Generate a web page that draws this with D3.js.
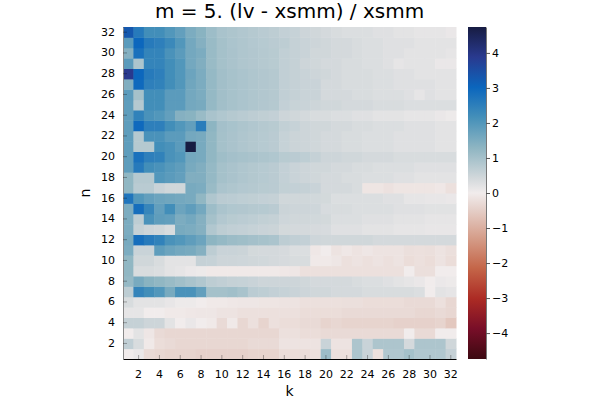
<!DOCTYPE html>
<html>
<head>
<meta charset="utf-8">
<script src="https://cdn.jsdelivr.net/npm/d3@7"></script>
<style>
  body { margin: 0; background: #fff; }
  #graf { width: 600px; height: 400px; }
  text { font-family: "DejaVu Sans", sans-serif; fill: #000; }
</style>
</head>
<body>
<div id="graf"></div>
<script>
// Datos
const kValues = [1, 2, 3, 4, 5, 6, 7, 8, 9, 10, 11, 12, 13, 14, 15, 16, 17, 18, 19, 20, 21, 22, 23, 24, 25, 26, 27, 28, 29, 30, 31, 32];
const nValues = [1, 2, 3, 4, 5, 6, 7, 8, 9, 10, 11, 12, 13, 14, 15, 16, 17, 18, 19, 20, 21, 22, 23, 24, 25, 26, 27, 28, 29, 30, 31, 32];
const xTicks = [2, 4, 6, 8, 10, 12, 14, 16, 18, 20, 22, 24, 26, 28, 30, 32];
const yTicks = [2, 4, 6, 8, 10, 12, 14, 16, 18, 20, 22, 24, 26, 28, 30, 32];
const cbTicks = [-4, -3, -2, -1, 0, 1, 2, 3, 4];

// z[n-1][k-1] : (lv - xsmm) / xsmm
const z = [
  /* n=1  */ [0.0, 0.1, -0.3, -0.35, -0.4, -0.4, -0.4, -0.45, -0.45, -0.45, -0.45, -0.45, -0.4, -0.4, -0.4, -0.25, -0.25, -0.25, -0.2, 1.1, -0.2, -0.2, 0.9, 0.55, -0.2, 0.85, 0.85, 1.0, 0.85, 0.85, 0.85, 0.6],
  /* n=2  */ [0.65, 0.35, -0.05, -0.25, -0.3, -0.35, -0.35, -0.35, -0.35, -0.35, -0.35, -0.35, -0.3, -0.3, -0.3, -0.15, -0.15, -0.15, -0.15, 0.55, -0.15, -0.15, 0.9, 0.55, 0.9, 0.9, 0.9, 0.4, 0.9, 0.9, 0.9, 0.45],
  /* n=3  */ [0.0, 0.2, -0.1, -0.3, -0.35, -0.35, -0.35, -0.35, -0.35, -0.35, -0.35, -0.35, -0.35, -0.35, -0.35, -0.2, -0.2, -0.25, -0.25, -0.3, -0.3, -0.3, -0.3, -0.3, -0.3, -0.3, -0.3, 0.0, -0.3, -0.3, 0.0, 0.0],
  /* n=4  */ [0.6, 0.6, 0.5, 0.5, 0.2, 0.0, 0.1, 0.0, -0.05, -0.3, -0.05, -0.35, -0.2, -0.4, -0.2, -0.25, -0.25, -0.3, -0.3, -0.4, -0.35, -0.4, -0.4, -0.4, -0.4, -0.4, -0.45, -0.45, -0.45, -0.45, -0.4, -0.6],
  /* n=5  */ [0.15, 0.15, 0.0, 0.0, -0.05, -0.05, -0.08, -0.1, -0.1, -0.15, -0.15, -0.2, -0.2, -0.2, -0.2, -0.2, -0.2, -0.25, -0.25, -0.25, -0.25, -0.3, -0.3, -0.3, -0.3, -0.3, -0.3, -0.3, -0.35, -0.35, -0.3, -0.35],
  /* n=6  */ [0.35, 0.2, 0.2, 0.2, 0.12, 0.05, 0.05, 0.0, -0.05, -0.05, -0.08, -0.1, -0.1, -0.12, -0.12, -0.15, -0.15, -0.2, -0.2, -0.2, -0.2, -0.22, -0.22, -0.25, -0.25, -0.25, -0.25, -0.3, -0.3, -0.3, -0.2, -0.35],
  /* n=7  */ [0.7, 2.4, 2.2, 2.0, 1.55, 2.1, 2.1, 1.8, 1.0, 1.0, 1.05, 0.95, 0.72, 0.68, 0.62, 0.58, 0.55, 0.5, 0.45, 0.45, 0.4, 0.4, 0.4, 0.35, 0.35, 0.35, 0.35, 0.35, 0.3, 0.0, 0.2, 0.15],
  /* n=8  */ [1.2, 1.55, 1.35, 1.25, 1.15, 1.05, 0.95, 0.85, 0.7, 0.65, 0.6, 0.58, 0.55, 0.5, 0.5, 0.5, 0.5, 0.45, 0.4, 0.4, 0.4, 0.4, 0.35, 0.3, 0.3, 0.25, 0.2, 0.15, 0.1, 0.0, 0.08, 0.05],
  /* n=9  */ [1.25, 0.35, 0.35, 0.3, 0.2, 0.15, 0.08, 0.05, -0.05, -0.05, -0.05, -0.05, -0.05, -0.05, -0.05, -0.08, -0.1, -0.2, -0.2, -0.2, -0.2, -0.2, -0.2, -0.2, -0.2, -0.2, -0.2, 0.0, -0.22, -0.22, 0.0, 0.0],
  /* n=10 */ [1.25, 0.45, 0.45, 0.35, 0.2, 0.2, 0.2, 0.6, 0.58, 0.5, 0.5, 0.48, 0.46, 0.44, 0.4, 0.38, 0.35, 0.35, -0.05, -0.05, -0.1, -0.2, -0.15, -0.2, -0.15, -0.2, -0.15, -0.25, -0.2, -0.25, -0.15, -0.25],
  /* n=11 */ [1.5, 0.55, 0.55, 1.85, 1.7, 1.6, 1.55, 1.4, 0.7, 0.55, 0.55, 0.52, 0.42, 0.4, 0.4, 0.38, 0.3, 0.3, -0.08, 0.0, -0.15, -0.08, -0.15, -0.1, -0.15, -0.15, -0.15, -0.22, -0.2, -0.22, -0.15, -0.22],
  /* n=12 */ [1.55, 2.85, 2.6, 2.45, 2.1, 2.0, 1.85, 1.7, 1.3, 1.2, 1.12, 1.08, 1.02, 0.98, 0.92, 0.7, 0.65, 0.62, 0.48, 0.45, 0.45, 0.45, 0.45, 0.45, 0.4, 0.4, 0.4, 0.4, 0.4, 0.4, 0.4, 0.4],
  /* n=13 */ [1.5, 0.6, 0.5, 0.45, 0.35, 1.55, 1.5, 1.4, 0.85, 0.7, 0.65, 0.62, 0.58, 0.55, 0.52, 0.42, 0.4, 0.4, 0.38, 0.36, 0.25, 0.25, 0.25, 0.2, 0.2, 0.2, 0.15, 0.15, 0.15, 0.12, 0.12, 0.12],
  /* n=14 */ [1.5, 0.7, 2.1, 1.85, 1.8, 1.5, 1.6, 1.4, 1.0, 0.82, 0.76, 0.72, 0.68, 0.64, 0.6, 0.48, 0.45, 0.45, 0.44, 0.42, 0.3, 0.3, 0.3, 0.25, 0.25, 0.25, 0.2, 0.2, 0.2, 0.15, 0.15, 0.15],
  /* n=15 */ [1.5, 2.85, 2.35, 1.8, 2.2, 1.7, 1.85, 1.6, 1.1, 0.92, 0.86, 0.84, 0.8, 0.78, 0.74, 0.52, 0.5, 0.5, 0.48, 0.36, 0.35, 0.35, 0.3, 0.3, 0.3, 0.3, 0.25, 0.25, 0.25, 0.22, 0.22, 0.22],
  /* n=16 */ [2.7, 2.0, 1.8, 1.7, 1.65, 1.6, 1.55, 1.25, 0.88, 0.74, 0.72, 0.68, 0.66, 0.62, 0.6, 0.46, 0.45, 0.45, 0.44, 0.42, 0.3, 0.3, 0.3, 0.3, 0.3, 0.25, 0.25, 0.15, 0.15, 0.12, 0.12, 0.1],
  /* n=17 */ [1.25, 0.75, 0.75, 0.55, 0.45, 0.45, 1.55, 1.5, 1.15, 0.92, 0.87, 0.82, 0.8, 0.76, 0.74, 0.64, 0.62, 0.6, 0.55, 0.4, 0.4, 0.4, 0.35, -0.12, -0.12, -0.18, -0.12, -0.12, -0.12, -0.12, -0.08, -0.2],
  /* n=18 */ [1.25, 0.8, 0.8, 2.0, 1.9, 1.8, 1.45, 1.45, 1.2, 1.0, 0.94, 0.88, 0.83, 0.78, 0.74, 0.62, 0.55, 0.5, 0.45, 0.4, 0.4, 0.35, 0.35, 0.3, 0.3, 0.3, 0.25, 0.25, 0.2, 0.2, 0.2, 0.2],
  /* n=19 */ [1.85, 2.6, 2.2, 2.1, 1.95, 1.85, 1.55, 1.45, 1.2, 1.0, 0.94, 0.88, 0.83, 0.78, 0.74, 0.62, 0.55, 0.5, 0.45, 0.45, 0.4, 0.4, 0.35, 0.35, 0.3, 0.3, 0.3, 0.3, 0.25, 0.25, 0.25, 0.25],
  /* n=20 */ [1.85, 2.8, 2.5, 2.45, 2.1, 2.0, 1.6, 1.55, 1.25, 1.08, 1.02, 0.98, 0.94, 0.9, 0.86, 0.76, 0.74, 0.68, 0.6, 0.5, 0.5, 0.45, 0.45, 0.4, 0.4, 0.4, 0.35, 0.35, 0.35, 0.35, 0.35, 0.35],
  /* n=21 */ [1.85, 0.8, 0.8, 2.2, 2.1, 1.9, 4.74, 1.55, 1.25, 1.0, 0.94, 0.88, 0.83, 0.78, 0.74, 0.58, 0.52, 0.5, 0.45, 0.4, 0.4, 0.35, 0.35, 0.3, 0.3, 0.3, 0.25, 0.25, 0.25, 0.25, 0.2, 0.2],
  /* n=22 */ [1.85, 0.8, 2.1, 2.1, 1.9, 1.9, 1.6, 1.55, 1.25, 1.0, 0.94, 0.88, 0.83, 0.78, 0.74, 0.58, 0.52, 0.5, 0.45, 0.4, 0.4, 0.35, 0.35, 0.3, 0.3, 0.3, 0.25, 0.25, 0.25, 0.25, 0.2, 0.2],
  /* n=23 */ [1.85, 2.95, 2.5, 2.5, 2.2, 2.0, 1.8, 2.55, 1.3, 1.02, 0.96, 0.9, 0.85, 0.8, 0.76, 0.64, 0.58, 0.5, 0.45, 0.45, 0.4, 0.4, 0.35, 0.35, 0.3, 0.3, 0.3, 0.25, 0.25, 0.25, 0.2, 0.2],
  /* n=24 */ [1.85, 2.45, 2.1, 2.0, 1.8, 1.4, 1.35, 1.15, 0.95, 0.86, 0.8, 0.75, 0.7, 0.66, 0.62, 0.5, 0.45, 0.4, 0.35, 0.35, 0.3, 0.3, 0.25, 0.25, 0.2, 0.2, 0.2, 0.15, 0.15, 0.15, 0.1, 0.05],
  /* n=25 */ [1.85, 0.8, 2.2, 2.2, 1.9, 1.9, 1.6, 1.55, 1.2, 1.04, 0.98, 0.92, 0.88, 0.84, 0.8, 0.62, 0.56, 0.55, 0.5, 0.45, 0.45, 0.4, 0.4, 0.4, 0.35, 0.35, 0.35, 0.3, 0.3, 0.3, 0.3, 0.3],
  /* n=26 */ [1.9, 1.0, 2.2, 2.2, 1.9, 1.9, 1.6, 1.5, 1.2, 1.04, 0.98, 0.92, 0.88, 0.84, 0.8, 0.65, 0.6, 0.55, 0.55, 0.4, 0.4, 0.4, 0.35, 0.35, 0.3, 0.3, 0.3, 0.25, 0.15, 0.25, 0.2, 0.2],
  /* n=27 */ [1.45, 2.95, 2.5, 2.45, 2.2, 2.0, 1.65, 1.5, 1.2, 1.04, 0.98, 0.92, 0.88, 0.84, 0.8, 0.65, 0.6, 0.55, 0.55, 0.4, 0.4, 0.35, 0.35, 0.35, 0.3, 0.3, 0.25, 0.25, 0.25, 0.25, 0.2, 0.2],
  /* n=28 */ [3.9, 3.0, 2.6, 2.5, 2.2, 2.0, 1.7, 1.5, 1.2, 1.04, 0.98, 0.92, 0.88, 0.84, 0.8, 0.65, 0.6, 0.55, 0.5, 0.45, 0.4, 0.35, 0.35, 0.35, 0.3, 0.3, 0.25, 0.25, 0.2, 0.2, 0.2, 0.2],
  /* n=29 */ [1.9, 0.9, 2.4, 2.4, 2.2, 2.0, 1.6, 1.45, 1.15, 1.0, 0.94, 0.88, 0.84, 0.8, 0.76, 0.65, 0.6, 0.5, 0.45, 0.4, 0.4, 0.35, 0.35, 0.3, 0.3, 0.25, 0.15, 0.2, 0.2, 0.2, 0.1, 0.1],
  /* n=30 */ [1.4, 2.8, 2.4, 2.4, 2.1, 1.9, 1.6, 1.5, 1.15, 1.0, 0.94, 0.88, 0.84, 0.8, 0.76, 0.65, 0.6, 0.55, 0.45, 0.45, 0.4, 0.4, 0.35, 0.3, 0.3, 0.25, 0.25, 0.2, 0.2, 0.2, 0.2, 0.15],
  /* n=31 */ [1.9, 3.0, 2.6, 2.5, 2.3, 2.0, 1.6, 1.4, 1.15, 1.0, 0.92, 0.87, 0.82, 0.78, 0.74, 0.7, 0.6, 0.55, 0.5, 0.45, 0.4, 0.4, 0.35, 0.3, 0.3, 0.25, 0.25, 0.25, 0.2, 0.2, 0.2, 0.2],
  /* n=32 */ [3.3, 2.6, 2.2, 2.2, 2.0, 1.8, 1.5, 1.35, 1.1, 0.95, 0.9, 0.85, 0.8, 0.75, 0.7, 0.62, 0.58, 0.5, 0.45, 0.4, 0.35, 0.3, 0.3, 0.3, 0.25, 0.25, 0.2, 0.2, 0.15, 0.15, 0.15, 0.1],
];

// Paleta "balance" (de rojo oscuro a azul oscuro)
const balancePos = [0, 1 / 11, 2 / 11, 3 / 11, 4 / 11, 5 / 11, 0.5, 6 / 11, 7 / 11, 8 / 11, 9 / 11, 10 / 11, 1];
const balanceColors = [
  "rgb(60,9,17)", "rgb(120,14,40)", "rgb(172,43,36)", "rgb(196,101,72)",
  "rgb(213,157,137)", "rgb(230,210,204)", "rgb(241,236,236)", "rgb(210,216,219)",
  "rgb(142,181,194)", "rgb(69,144,185)", "rgb(11,102,189)", "rgb(41,58,143)", "rgb(23,28,66)",
];

// Dimensiones
const anchoTotal = 600;
const altoTotal = 400;
const plot = { left: 123, right: 456, top: 27, bottom: 359 };
const cb = { left: 468, right: 486 };

const svg = d3
  .select("#graf")
  .append("svg")
  .attr("width", anchoTotal)
  .attr("height", altoTotal);

// Escalas
const x = d3.scaleBand().domain(kValues).range([plot.left, plot.right]);
const y = d3.scaleBand().domain(nValues.slice().reverse()).range([plot.top, plot.bottom]);

const zmax = d3.max(z.flat(), (v) => Math.abs(v));
const color = d3
  .scaleLinear()
  .domain(balancePos.map((t) => -zmax + t * 2 * zmax))
  .range(balanceColors)
  .interpolate(d3.interpolateRgb);

// Celdas del mapa de calor
const celdas = [];
nValues.forEach((n, i) => {
  kValues.forEach((k, j) => {
    celdas.push({ k: k, n: n, v: z[i][j] });
  });
});

svg
  .append("g")
  .selectAll("rect")
  .data(celdas)
  .join("rect")
  .attr("x", (d) => x(d.k))
  .attr("y", (d) => y(d.n))
  .attr("width", x.bandwidth() + 0.5)
  .attr("height", y.bandwidth() + 0.5)
  .attr("fill", (d) => color(d.v));

// Ejes
const ejeX = svg
  .append("g")
  .attr("transform", `translate(0, ${plot.bottom})`)
  .call(d3.axisBottom(x).tickValues(xTicks).tickSizeInner(-4).tickSizeOuter(0).tickPadding(11));

const ejeY = svg
  .append("g")
  .attr("transform", `translate(${plot.left}, 0)`)
  .call(d3.axisLeft(y).tickValues(yTicks).tickSizeInner(-4).tickSizeOuter(0).tickPadding(8));

[ejeX, ejeY].forEach((eje) => {
  eje.selectAll("text").style("font-size", "11px").style("font-family", "DejaVu Sans, sans-serif").attr("fill", "#000");
  eje.selectAll(".tick line").attr("stroke", "#000").attr("stroke-opacity", 0.3);
  eje.select(".domain").attr("stroke", "#000");
});
ejeY.select(".domain").attr("stroke", "#888");

// Barra de color
const cbScale = d3.scaleLinear().domain([-zmax, zmax]).range([plot.bottom, plot.top]);

const grad = svg
  .append("defs")
  .append("linearGradient")
  .attr("id", "gradBalance")
  .attr("x1", "0")
  .attr("y1", "1")
  .attr("x2", "0")
  .attr("y2", "0");

grad
  .selectAll("stop")
  .data(balancePos)
  .join("stop")
  .attr("offset", (d) => d)
  .attr("stop-color", (d, i) => balanceColors[i]);

svg
  .append("rect")
  .attr("x", cb.left)
  .attr("y", plot.top)
  .attr("width", cb.right - cb.left)
  .attr("height", plot.bottom - plot.top)
  .attr("fill", "url(#gradBalance)");

const ejeCb = svg
  .append("g")
  .attr("transform", `translate(${cb.right}, 0)`)
  .call(
    d3
      .axisRight(cbScale)
      .tickValues(cbTicks)
      .tickSizeInner(4)
      .tickSizeOuter(0)
      .tickPadding(2)
      .tickFormat((d) => (d < 0 ? "\u2212" + Math.abs(d) : d))
  );
ejeCb.selectAll("text").style("font-size", "11px").style("font-family", "DejaVu Sans, sans-serif").attr("fill", "#000");
ejeCb.selectAll(".tick line").attr("stroke", "#555");
ejeCb.select(".domain").attr("stroke", "#777");

// Textos
svg
  .append("text")
  .attr("x", (plot.left + plot.right) / 2)
  .attr("y", 18)
  .attr("text-anchor", "middle")
  .style("font-size", "20px")
  .text("m = 5. (lv - xsmm) / xsmm");

svg
  .append("text")
  .attr("x", (plot.left + plot.right) / 2)
  .attr("y", 396)
  .attr("text-anchor", "middle")
  .style("font-size", "14px")
  .text("k");

svg
  .append("text")
  .attr("transform", `translate(90, ${(plot.top + plot.bottom) / 2}) rotate(-90)`)
  .attr("text-anchor", "middle")
  .style("font-size", "14px")
  .text("n");
</script>
</body>
</html>
